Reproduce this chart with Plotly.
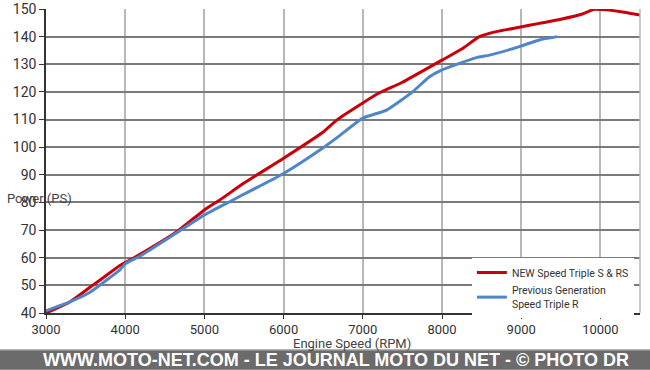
import plotly.graph_objects as go

# Data
rpm_new = [3000, 3300, 3555, 3700, 3933, 4100, 4650, 5000, 5195, 5500, 6000, 6500, 6670,
           7000, 7200, 7500, 8000, 8250, 8473, 8700, 8977, 9229, 9500, 9772, 9924, 10075,
           10300, 10500]
ps_new = [40, 44, 49.3, 52.3, 57.2, 59.8, 69.4, 77.3, 80.9, 87, 96, 105.5, 109.8,
          116, 119.5, 123.5, 131.5, 135.5, 140, 141.9, 143.4, 144.8, 146.3, 148.2, 149.9, 149.7,
          148.8, 147.8]

rpm_old = [3000, 3300, 3555, 3700, 3933, 4000, 4200, 4650, 5000, 5360, 5500, 6000, 6500,
           6700, 7000, 7300, 7628, 7842, 7981, 8220, 8435, 8600, 8977, 9229, 9457]
ps_old = [40.8, 44, 47.5, 50.5, 55.6, 57.8, 60.8, 69, 75.5, 80.9, 83, 90.5, 99.8,
          104, 110.5, 113.4, 120, 125.5, 127.7, 130.3, 132.4, 133.3, 136.4, 138.8, 140]

name_new = "NEW Speed Triple S & RS"
name_old = "Previous Generation<br>Speed Triple R"
x_ticks = [3000, 4000, 5000, 6000, 7000, 8000, 9000, 10000]
x_labels = ["3000", "4000", "5000", "6000", "7000", "8000", "9000", "10000"]
y_ticks = [40, 50, 60, 70, 80, 90, 100, 110, 120, 130, 140, 150]
y_labels = ["40", "50", "60", "70", "80", "90", "100", "110", "120", "130", "140", "150"]

font_fam = "Roboto, 'Noto Sans', sans-serif"

fig = go.Figure()
fig.add_trace(go.Scatter(x=rpm_new, y=ps_new, mode="lines", name=name_new,
                         line=dict(color="#c8000a", width=3, shape="spline", smoothing=0.5)))
fig.add_trace(go.Scatter(x=rpm_old, y=ps_old, mode="lines", name=name_old,
                         line=dict(color="#4f86c8", width=3, shape="spline", smoothing=0.5)))

fig.update_layout(
    width=650, height=370,
    margin=dict(l=46, r=10, t=9, b=57, autoexpand=False),
    paper_bgcolor="white", plot_bgcolor="white",
    font=dict(family=font_fam, color="#333333"),
    showlegend=True,
    legend=dict(x=0.717, y=0.181, xanchor="left", yanchor="top",
                bgcolor="white", font=dict(size=10.5, color="#333333"),
                tracegroupgap=0, itemwidth=30),
    xaxis=dict(range=[3000, 10500], tickvals=x_ticks, ticktext=x_labels, showgrid=True,
               gridcolor="#b8b8b8", automargin=False,
               gridwidth=1.5, showline=True, linecolor="#333333", linewidth=1.5,
               ticks="outside", ticklen=4, tickcolor="#333333", zeroline=False,
               tickfont=dict(size=13, color="#333333")),
    yaxis=dict(range=[40, 150], tickvals=y_ticks, ticktext=y_labels, showgrid=True,
               gridcolor="#7a7a7a", automargin=False,
               gridwidth=2, showline=True, linecolor="#333333", linewidth=1.5,
               ticks="outside", ticklen=5, tickcolor="#333333", zeroline=False,
               tickfont=dict(size=14, color="#333333")),
    shapes=[
        dict(type="line", xref="paper", yref="paper", x0=1, x1=1, y0=0, y1=1,
             line=dict(color="#b8b8b8", width=1.5)),
        dict(type="rect", xref="paper", yref="paper", x0=-0.08, x1=1.02,
             y0=-0.1875, y1=-0.1217, fillcolor="#6b6b6b",
             line=dict(color="#9a9a9a", width=1.5), layer="above"),
    ],
    annotations=[
        dict(text="Power (PS)", xref="paper", yref="paper", x=-0.069, y=0.378,
             xanchor="left", yanchor="middle", showarrow=False,
             font=dict(size=13, color="#444444")),
        dict(text="Engine Speed (RPM)", xref="paper", yref="paper", x=0.515, y=-0.1,
             xanchor="center", yanchor="middle", showarrow=False,
             font=dict(size=13, color="#444444")),
        dict(text="<b>WWW.MOTO-NET.COM - LE JOURNAL MOTO DU NET - © PHOTO DR</b>",
             xref="paper", yref="paper", x=0.488, y=-0.1546,
             xanchor="center", yanchor="middle", showarrow=False,
             font=dict(family="'Liberation Sans', Arial, sans-serif", size=18, color="white")),
    ],
)

fig.write_html("out.html", config={"displayModeBar": False},
               post_script="document.body.style.margin='0';document.body.style.overflow='hidden';")
